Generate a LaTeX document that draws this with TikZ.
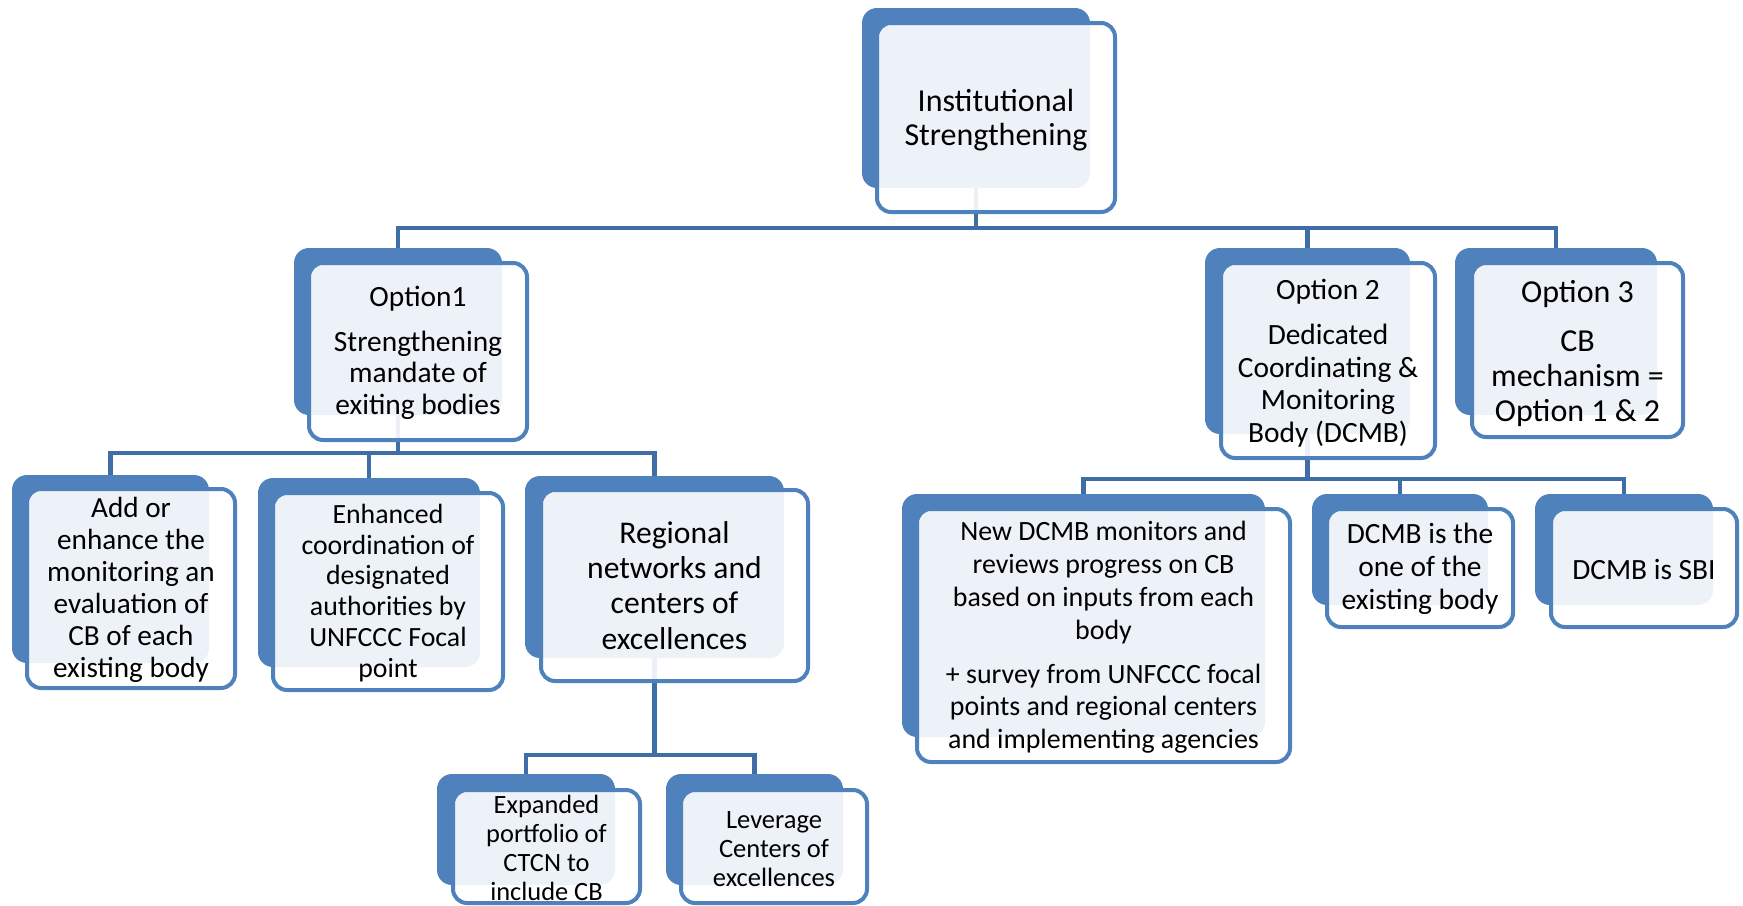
\documentclass[tikz,border=0pt]{standalone}
\usepackage{fontspec}
\setmainfont{Carlito}
\definecolor{bb}{HTML}{4F81BD}
\definecolor{cn}{HTML}{3F6EA6}
\tikzset{
 back/.style={draw=none, fill=bb, rounded corners=15pt, inner sep=0pt},
 front/.style={draw=bb, line width=4pt, fill=white, fill opacity=0.9, rounded corners=14pt, inner sep=0pt},
 txt/.style={inner sep=0pt, align=center, text=black},
 conn/.style={draw=cn, line width=4.5pt},
}
\newcommand\fs[2]{\fontsize{#1}{#2}\selectfont}
\begin{document}
\begin{tikzpicture}[x=1pt,y=-1pt]
\useasboundingbox (0,0) rectangle (1743,905);
% back boxes
\node[back, minimum width=228pt, minimum height=180pt] (b0) at (976,98) {};
\node[back, minimum width=208pt, minimum height=167pt] (b1) at (398,331.5) {};
\node[back, minimum width=205pt, minimum height=186pt] (b2) at (1307.5,341) {};
\node[back, minimum width=202pt, minimum height=167pt] (b3) at (1556,331.5) {};
\node[back, minimum width=197pt, minimum height=188pt] (b4) at (110.5,569) {};
\node[back, minimum width=222pt, minimum height=189pt] (b5) at (369,572.5) {};
\node[back, minimum width=259pt, minimum height=182pt] (b6) at (654.5,567) {};
\node[back, minimum width=178pt, minimum height=111pt] (b7) at (526,829.5) {};
\node[back, minimum width=177pt, minimum height=111pt] (b8) at (754.5,829.5) {};
\node[back, minimum width=363pt, minimum height=243pt] (b9) at (1083.5,615.5) {};
\node[back, minimum width=176pt, minimum height=111pt] (b10) at (1400,549.5) {};
\node[back, minimum width=178pt, minimum height=111pt] (b11) at (1624,549.5) {};
% junction coordinates
\coordinate (h0) at (976,228);
\coordinate (h1) at (398,453);
\coordinate (h2) at (1307.5,479);
\coordinate (h3) at (654.5,755);
% connectors
\draw[conn] (b0.south) -- (h0);
\draw[conn] (b1.north) |- (h0);
\draw[conn] (b2.north) |- (h0);
\draw[conn] (b3.north) |- (h0);
\draw[conn] (b1.south) -- (h1);
\draw[conn] (b4.north) |- (h1);
\draw[conn] (b5.north) |- (h1);
\draw[conn] (b6.north) |- (h1);
\draw[conn] (b6.south) -- (h3);
\draw[conn] (b7.north) |- (h3);
\draw[conn] (b8.north) |- (h3);
\draw[conn] (b2.south) -- (h2);
\draw[conn] (b9.north) |- (h2);
\draw[conn] (b10.north) |- (h2);
\draw[conn] (b11.north) |- (h2);
% front boxes
\node[front, minimum width=238pt, minimum height=189pt] (f0) at (996,117.5) {};
\node[front, minimum width=218pt, minimum height=177pt] (f1) at (418,351.5) {};
\node[front, minimum width=214pt, minimum height=195pt] (f2) at (1328,360.5) {};
\node[front, minimum width=211pt, minimum height=174pt] (f3) at (1577.5,350) {};
\node[front, minimum width=208pt, minimum height=199pt] (f4) at (131,588.5) {};
\node[front, minimum width=230pt, minimum height=197pt] (f5) at (388,591.5) {};
\node[front, minimum width=267pt, minimum height=191pt] (f6) at (674.5,585.5) {};
\node[front, minimum width=187pt, minimum height=113pt] (f7) at (546.5,846.5) {};
\node[front, minimum width=186pt, minimum height=113pt] (f8) at (774,846.5) {};
\node[front, minimum width=373pt, minimum height=253pt] (f9) at (1103.5,635.5) {};
\node[front, minimum width=186pt, minimum height=118pt] (f10) at (1420,568) {};
\node[front, minimum width=186pt, minimum height=118pt] (f11) at (1644,568) {};
% texts
\node[txt, font=\fs{32}{34.5}] (t0) at ([yshift=-2.5pt]f0.center) {Institutional\\Strengthening};
\node[txt, font=\fs{29.4}{31.7}] (t1) at ([yshift=-1.5pt]f1.center) {Option1\\[13pt]Strengthening\\mandate of\\exiting bodies};
\node[txt, font=\fs{29.4}{32.5}] (t2) at ([yshift=-2.5pt]f2.center) {Option 2\\[12.5pt]Dedicated\\Coordinating \&\\Monitoring\\Body (DCMB)};
\node[txt, font=\fs{32}{35}] (t3) at ([yshift=-3.5pt]f3.center) {Option 3\\[14pt]CB\\mechanism =\\Option 1 \& 2};
\node[txt, font=\fs{29.2}{32}] (t4) at ([yshift=-1.5pt]f4.center) {Add or\\enhance the\\monitoring an\\evaluation of\\CB of each\\existing body};
\node[txt, font=\fs{27.8}{30.9}] (t5) at ([yshift=-1.5pt]f5.center) {Enhanced\\coordination of\\designated\\authorities by\\UNFCCC Focal\\point};
\node[txt, font=\fs{31.6}{35.2}] (t6) at (f6.center) {Regional\\networks and\\centers of\\excellences};
\node[txt, font=\fs{26.4}{29}] (t7) at ([yshift=-1.5pt]f7.center) {Expanded\\portfolio of\\CTCN to\\include CB};
\node[txt, font=\fs{26.5}{29}] (t8) at ([yshift=-2.5pt]f8.center) {Leverage\\Centers of\\excellences};
\node[txt, font=\fs{27.9}{32.7}] (t9) at ([yshift=-2pt]f9.center) {New DCMB monitors and\\reviews progress on CB\\based on inputs from each\\body\\[11.5pt]+ survey from UNFCCC focal\\points and regional centers\\and implementing agencies};
\node[txt, font=\fs{29.4}{32.8}] (t10) at ([yshift=-1pt]f10.center) {DCMB is the\\one of the\\existing body};
\node[txt, font=\fs{29.4}{32.8}] (t11) at ([yshift=-1pt]f11.center) {DCMB is SBI};
\end{tikzpicture}
\end{document}
